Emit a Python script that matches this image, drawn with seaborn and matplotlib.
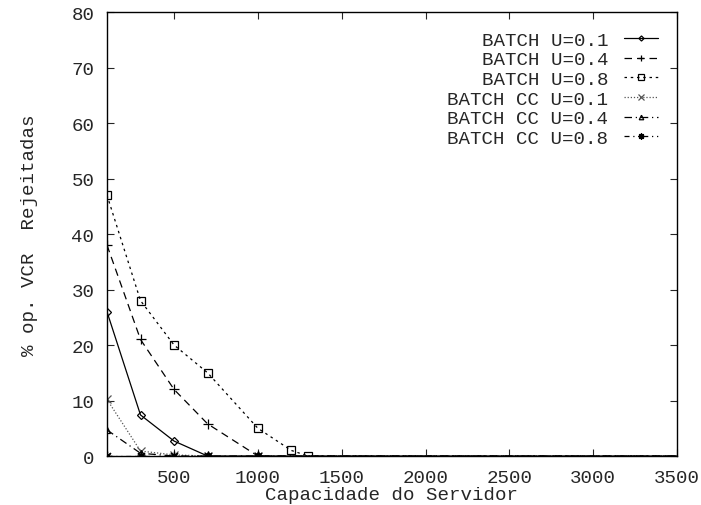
import matplotlib
matplotlib.use("Agg")
import matplotlib.pyplot as plt
import seaborn as sns
import pandas as pd

sns.set_style("ticks")
plt.rcParams['font.family'] = ['Liberation Mono', 'DejaVu Sans Mono']

labels = ["BATCH U=0.1", "BATCH U=0.4", "BATCH U=0.8",
          "BATCH CC U=0.1", "BATCH CC U=0.4", "BATCH CC U=0.8"]

x_b01 = [100, 300, 500, 700, 1000, 4000]
y_b01 = [26, 7.4, 2.7, 0, 0, 0]
x_b04 = [100, 300, 500, 700, 1000, 4000]
y_b04 = [38, 21, 12, 5.8, 0, 0]
x_b08 = [100, 300, 500, 700, 1000, 1200, 1300, 4000]
y_b08 = [47, 28, 20, 15, 5, 1, 0, 0]
x_c01 = [100, 300, 500, 700, 1000, 4000]
y_c01 = [10.2, 0.9, 0.2, 0, 0, 0]
x_c04 = [100, 300, 500, 700, 1000, 4000]
y_c04 = [4.7, 0.5, 0, 0, 0, 0]
x_c08 = [100, 300, 500, 700, 1000, 4000]
y_c08 = [0, 0, 0, 0, 0, 0]

xs = [x_b01, x_b04, x_b08, x_c01, x_c04, x_c08]
ys = [y_b01, y_b04, y_b08, y_c01, y_c04, y_c08]

markers = ['D', '+', 's', 'x', '^', (8, 2, 0)]
msizes = [4, 7, 6, 6, 5, 7]
dashes = ['-', (0, (6, 4)), (0, (2, 3)), (0, (1, 1.5)), (0, (6, 3, 1, 3)), (0, (4, 3, 1, 3, 1, 3))]
colors = ['black', 'black', 'black', '#555555', 'black', 'black']

FS = 13.8

fig = plt.figure(figsize=(7.01, 5.06), dpi=100)
ax = fig.add_axes([0.1526, 0.0968, 0.8132, 0.8775])

for lab, x, y, m, ms, d, c in zip(labels, xs, ys, markers, msizes, dashes, colors):
    df = pd.DataFrame({"x": x, "y": y})
    sns.lineplot(data=df, x="x", y="y", ax=ax, color=c, linestyle=d, linewidth=0.9,
                 marker=m, markersize=ms, markerfacecolor='none' if m in ('D', 's', '^') else c,
                 markeredgecolor=c, markeredgewidth=0.9, label=lab)

ax.set_xlim(100, 3500)
ax.set_ylim(0, 80)
ax.set_xticks([500, 1000, 1500, 2000, 2500, 3000, 3500])
ax.set_yticks(list(range(0, 81, 10)))
ax.tick_params(direction='in', top=True, right=True, length=5, width=0.8, labelsize=FS, pad=9)
for s in ax.spines.values():
    s.set_linewidth(1.0)
    s.set_color('black')
ax.set_xlabel("Capacidade do Servidor", fontsize=FS, labelpad=0)
ax.set_ylabel("% op. VCR  Rejeitadas", fontsize=FS, labelpad=24)

leg = ax.legend(loc='upper right', markerfirst=False, frameon=False, fontsize=FS,
                handlelength=1.8, handletextpad=0.8, labelspacing=0.12, markerscale=0.65,
                bbox_to_anchor=(0.9667, 0.957), borderaxespad=0, borderpad=0)

fig.savefig("out.png", dpi=100)
